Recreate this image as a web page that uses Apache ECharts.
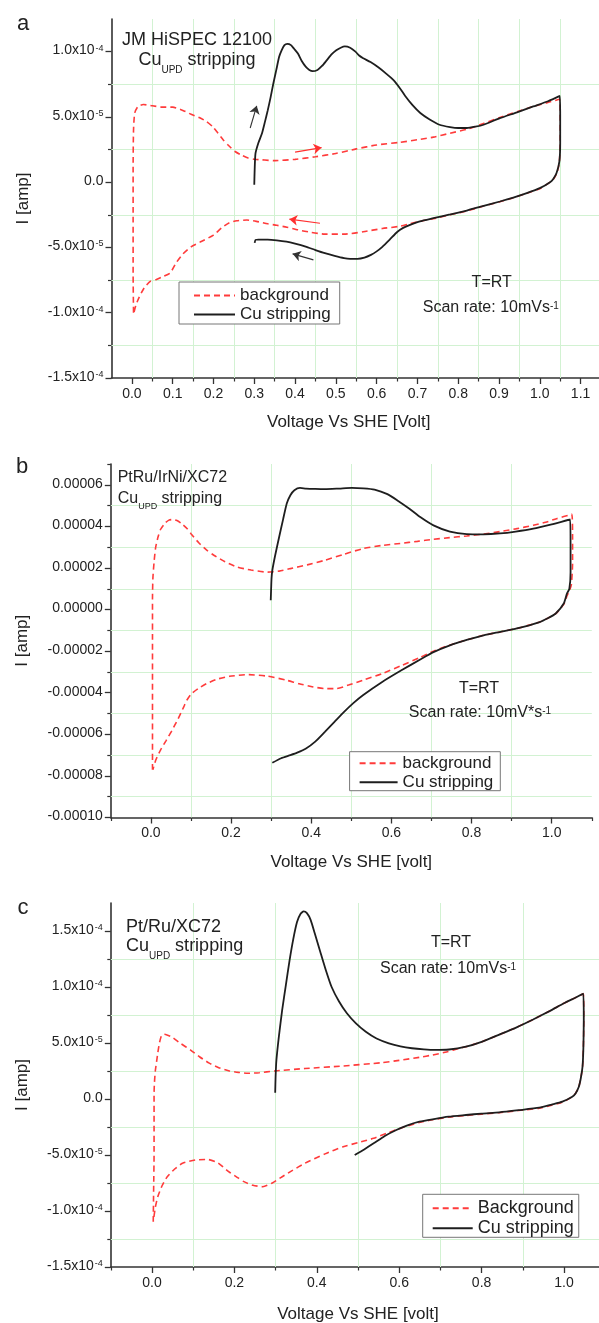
<!DOCTYPE html>
<html>
<head>
<meta charset="utf-8">
<script src="https://cdn.jsdelivr.net/npm/echarts@6/dist/echarts.min.js"></script>
<style>
  html, body { margin: 0; padding: 0; background: #fff; }
  #main { width: 599px; height: 1323px; }
</style>
</head>
<body>
<div id="main"></div>
<script>
var FONT = "'Liberation Sans', Arial, sans-serif";
var RED = '#ff3b3b';
var BLACK = '#1e1e1e';
var GRID = '#d2f2d2';

// ---- panel a : JM HiSPEC 12100 ----
var bgA = [[0.004,-1.0e-4],[0.003,-7.0e-5],[0.003,-3.0e-5],[0.003,1.0e-5],[0.004,4.0e-5],[0.007,5.3e-5],[0.015,5.8e-5],[0.028,5.95e-5],[0.05,5.85e-5],[0.075,5.75e-5],[0.1,5.75e-5],[0.125,5.5e-5],[0.145,5.2e-5],[0.165,4.95e-5],[0.183,4.65e-5],[0.198,4.25e-5],[0.211,3.75e-5],[0.225,3.2e-5],[0.239,2.75e-5],[0.253,2.35e-5],[0.267,2.1e-5],[0.285,1.85e-5],[0.30,1.76e-5],[0.351,1.65e-5],[0.40,1.75e-5],[0.45,1.95e-5],[0.50,2.2e-5],[0.55,2.55e-5],[0.60,2.85e-5],[0.657,3.05e-5],[0.70,3.25e-5],[0.739,3.45e-5],[0.78,3.75e-5],[0.821,4.05e-5],[0.862,4.5e-5],[0.902,4.95e-5],[0.944,5.4e-5],[0.984,5.8e-5],[1.02,6.1e-5],[1.048,6.35e-5],
  [1.05,5.0e-5],[1.05,3.0e-5],[1.048,1.6e-5],[1.043,0.8e-5],[1.035,0.3e-5],[1.025,0.0],[1.0,-0.5e-5],[0.968,-0.85e-5],[0.935,-1.2e-5],[0.902,-1.5e-5],[0.86,-1.85e-5],[0.821,-2.2e-5],[0.78,-2.5e-5],[0.739,-2.8e-5],[0.706,-3.0e-5],[0.68,-3.2e-5],[0.657,-3.38e-5],[0.614,-3.55e-5],[0.567,-3.8e-5],[0.52,-3.98e-5],[0.473,-3.98e-5],[0.44,-3.85e-5],[0.407,-3.65e-5],[0.38,-3.45e-5],[0.355,-3.3e-5],[0.333,-3.19e-5],[0.305,-3.0e-5],[0.282,-2.9e-5],[0.257,-2.96e-5],[0.239,-3.1e-5],[0.22,-3.5e-5],[0.2,-4.05e-5],[0.17,-4.55e-5],[0.145,-4.95e-5],[0.125,-5.5e-5],[0.108,-6.2e-5],[0.094,-6.95e-5],[0.075,-7.25e-5],[0.06,-7.45e-5],[0.045,-7.6e-5],[0.03,-8.1e-5],[0.018,-8.8e-5],[0.01,-9.4e-5],[0.005,-1.0e-4]];
var cuA = [[0.300,-0.2e-5],[0.301,1.0e-5],[0.303,2.2e-5],[0.31,3.0e-5],[0.319,3.75e-5],[0.326,4.6e-5],[0.333,5.5e-5],[0.34,6.5e-5],[0.347,7.6e-5],[0.354,8.6e-5],[0.361,9.6e-5],[0.367,1.01e-4],[0.374,1.05e-4],[0.381,1.06e-4],[0.39,1.05e-4],[0.398,1.02e-4],[0.407,9.85e-5],[0.416,9.3e-5],[0.426,8.85e-5],[0.435,8.6e-5],[0.443,8.5e-5],[0.455,8.6e-5],[0.466,8.9e-5],[0.478,9.35e-5],[0.49,9.8e-5],[0.501,1.01e-4],[0.512,1.03e-4],[0.522,1.04e-4],[0.535,1.03e-4],[0.548,1.0e-4],[0.557,9.7e-5],[0.567,9.5e-5],[0.585,9.2e-5],[0.604,8.8e-5],[0.624,8.3e-5],[0.642,7.8e-5],[0.657,7.2e-5],[0.67,6.6e-5],[0.688,5.9e-5],[0.707,5.3e-5],[0.73,4.8e-5],[0.754,4.4e-5],[0.78,4.22e-5],[0.80,4.15e-5],[0.821,4.15e-5],[0.842,4.25e-5],[0.862,4.4e-5],[0.902,4.9e-5],[0.944,5.35e-5],[0.984,5.8e-5],[1.02,6.2e-5],[1.049,6.6e-5],
  [1.05,5.0e-5],[1.05,3.0e-5],[1.048,1.6e-5],[1.041,0.7e-5],[1.033,0.25e-5],[1.025,0.0],[1.0,-0.46e-5],[0.968,-0.84e-5],[0.935,-1.18e-5],[0.902,-1.48e-5],[0.86,-1.83e-5],[0.821,-2.17e-5],[0.78,-2.47e-5],[0.739,-2.76e-5],[0.706,-3.0e-5],[0.682,-3.27e-5],[0.665,-3.5e-5],[0.651,-3.8e-5],[0.632,-4.4e-5],[0.614,-4.95e-5],[0.6,-5.3e-5],[0.586,-5.57e-5],[0.57,-5.78e-5],[0.553,-5.87e-5],[0.535,-5.87e-5],[0.52,-5.82e-5],[0.497,-5.65e-5],[0.473,-5.44e-5],[0.45,-5.2e-5],[0.426,-4.93e-5],[0.4,-4.7e-5],[0.379,-4.55e-5],[0.355,-4.45e-5],[0.333,-4.4e-5],[0.31,-4.4e-5],[0.303,-4.42e-5],[0.301,-4.65e-5]];
// scan direction arrows (from, to)
var arrowBlackA = [[[0.29,4.15e-5],[0.306,5.85e-5]], [[0.445,-5.95e-5],[0.394,-5.49e-5]]];
var arrowRedA = [[[0.40,2.3e-5],[0.465,2.65e-5]], [[0.461,-3.14e-5],[0.386,-2.83e-5]]];
var xMajorA = [0, 0.1, 0.2, 0.3, 0.4, 0.5, 0.6, 0.7, 0.8, 0.9, 1.0, 1.1];
var xMinorA = [0.05, 0.15, 0.25, 0.35, 0.45, 0.55, 0.65, 0.75, 0.85, 0.95, 1.05];
var yMajorA = [-1.5e-4, -1.0e-4, -5.0e-5, 0, 5.0e-5, 1.0e-4];
var yMinorA = [-1.25e-4, -7.5e-5, -2.5e-5, 2.5e-5, 7.5e-5];

// ---- panel b : PtRu/IrNi/XC72 ----
var bgB = [[0.004,-7.7e-5],[0.004,-5.0e-5],[0.004,-2.0e-5],[0.004,0.5e-5],[0.005,1.5e-5],[0.008,2.3e-5],[0.012,3.0e-5],[0.018,3.5e-5],[0.024,3.85e-5],[0.035,4.15e-5],[0.045,4.3e-5],[0.053,4.33e-5],[0.065,4.28e-5],[0.077,4.13e-5],[0.09,3.9e-5],[0.1,3.65e-5],[0.12,3.2e-5],[0.14,2.85e-5],[0.158,2.6e-5],[0.185,2.3e-5],[0.215,2.05e-5],[0.25,1.9e-5],[0.291,1.8e-5],[0.32,1.85e-5],[0.348,1.97e-5],[0.39,2.15e-5],[0.434,2.37e-5],[0.48,2.65e-5],[0.529,2.93e-5],[0.575,3.08e-5],[0.622,3.18e-5],[0.665,3.28e-5],[0.705,3.38e-5],[0.745,3.46e-5],[0.788,3.54e-5],[0.83,3.63e-5],[0.871,3.75e-5],[0.91,3.88e-5],[0.954,4.05e-5],[0.985,4.2e-5],[1.012,4.37e-5],[1.05,4.58e-5],
  [1.052,3.5e-5],[1.052,2.2e-5],[1.049,1.2e-5],[1.044,0.9e-5],[1.038,0.65e-5],[1.03,0.25e-5],[1.01,-0.2e-5],[0.99,-0.42e-5],[0.97,-0.6e-5],[0.913,-0.91e-5],[0.87,-1.08e-5],[0.83,-1.24e-5],[0.79,-1.45e-5],[0.746,-1.7e-5],[0.705,-2.0e-5],[0.672,-2.3e-5],[0.622,-2.72e-5],[0.577,-3.08e-5],[0.529,-3.4e-5],[0.495,-3.62e-5],[0.463,-3.8e-5],[0.435,-3.8e-5],[0.405,-3.72e-5],[0.37,-3.57e-5],[0.339,-3.4e-5],[0.29,-3.2e-5],[0.244,-3.13e-5],[0.196,-3.21e-5],[0.165,-3.35e-5],[0.139,-3.56e-5],[0.118,-3.8e-5],[0.101,-4.05e-5],[0.09,-4.35e-5],[0.082,-4.68e-5],[0.068,-5.25e-5],[0.053,-5.8e-5],[0.038,-6.3e-5],[0.024,-6.76e-5],[0.012,-7.25e-5],[0.005,-7.7e-5]];
var cuB = [[0.299,0.45e-5],[0.300,1.0e-5],[0.301,1.5e-5],[0.303,1.89e-5],[0.31,2.6e-5],[0.32,3.49e-5],[0.33,4.35e-5],[0.339,5.1e-5],[0.348,5.5e-5],[0.358,5.74e-5],[0.372,5.85e-5],[0.387,5.82e-5],[0.41,5.8e-5],[0.434,5.79e-5],[0.47,5.82e-5],[0.501,5.85e-5],[0.53,5.83e-5],[0.558,5.77e-5],[0.59,5.55e-5],[0.615,5.25e-5],[0.645,4.85e-5],[0.672,4.45e-5],[0.705,4.05e-5],[0.746,3.75e-5],[0.788,3.63e-5],[0.83,3.62e-5],[0.871,3.66e-5],[0.91,3.75e-5],[0.954,3.89e-5],[1.0,4.1e-5],[1.046,4.33e-5],
  [1.047,3.0e-5],[1.047,1.8e-5],[1.044,1.0e-5],[1.038,0.77e-5],[1.03,0.29e-5],[1.01,-0.19e-5],[0.99,-0.42e-5],[0.97,-0.6e-5],[0.913,-0.91e-5],[0.87,-1.08e-5],[0.83,-1.24e-5],[0.79,-1.45e-5],[0.746,-1.72e-5],[0.705,-2.05e-5],[0.672,-2.4e-5],[0.625,-2.92e-5],[0.577,-3.48e-5],[0.529,-4.12e-5],[0.505,-4.5e-5],[0.482,-4.92e-5],[0.458,-5.4e-5],[0.434,-5.88e-5],[0.41,-6.35e-5],[0.387,-6.68e-5],[0.365,-6.88e-5],[0.348,-7.0e-5],[0.325,-7.15e-5],[0.303,-7.37e-5]];
var xMajorB = [0, 0.2, 0.4, 0.6, 0.8, 1.0];
var xMinorB = [-0.1, 0.1, 0.3, 0.5, 0.7, 0.9, 1.1];
var yMajorB = [-1.0e-4, -8.0e-5, -6.0e-5, -4.0e-5, -2.0e-5, 0, 2.0e-5, 4.0e-5, 6.0e-5];
var yMinorB = [-9.0e-5, -7.0e-5, -5.0e-5, -3.0e-5, -1.0e-5, 1.0e-5, 3.0e-5, 5.0e-5, 7.0e-5];

// ---- panel c : Pt/Ru/XC72 ----
var bgC = [[0.003,-1.096e-4],[0.004,-8.0e-5],[0.005,-5.0e-5],[0.005,-2.0e-5],[0.005,0.5e-5],[0.006,1.5e-5],[0.008,2.5e-5],[0.011,3.3e-5],[0.014,4.1e-5],[0.018,5.0e-5],[0.023,5.65e-5],[0.03,5.78e-5],[0.038,5.7e-5],[0.047,5.56e-5],[0.07,4.95e-5],[0.093,4.38e-5],[0.116,3.75e-5],[0.139,3.2e-5],[0.162,2.8e-5],[0.186,2.53e-5],[0.21,2.38e-5],[0.232,2.3e-5],[0.26,2.35e-5],[0.297,2.5e-5],[0.371,2.72e-5],[0.464,2.95e-5],[0.557,3.24e-5],[0.60,3.45e-5],[0.649,3.72e-5],[0.681,3.93e-5],[0.715,4.2e-5],[0.746,4.53e-5],[0.762,4.67e-5],[0.8,5.1e-5],[0.843,5.75e-5],[0.885,6.4e-5],[0.925,7.1e-5],[0.965,7.85e-5],[1.0,8.55e-5],[1.025,9.0e-5],[1.047,9.4e-5],
  [1.048,7.0e-5],[1.047,4.5e-5],[1.045,2.9e-5],[1.041,1.9e-5],[1.036,1.1e-5],[1.028,0.5e-5],[1.02,0.2e-5],[0.996,-0.3e-5],[0.97,-0.55e-5],[0.94,-0.82e-5],[0.89,-1.03e-5],[0.843,-1.22e-5],[0.8,-1.35e-5],[0.762,-1.47e-5],[0.72,-1.62e-5],[0.681,-1.85e-5],[0.649,-2.1e-5],[0.62,-2.4e-5],[0.60,-2.65e-5],[0.57,-3.05e-5],[0.538,-3.51e-5],[0.5,-3.9e-5],[0.464,-4.26e-5],[0.42,-4.9e-5],[0.371,-5.74e-5],[0.34,-6.4e-5],[0.316,-6.94e-5],[0.292,-7.5e-5],[0.269,-7.83e-5],[0.245,-7.7e-5],[0.223,-7.38e-5],[0.205,-6.95e-5],[0.186,-6.49e-5],[0.16,-5.7e-5],[0.135,-5.4e-5],[0.105,-5.45e-5],[0.074,-5.74e-5],[0.055,-6.25e-5],[0.037,-6.94e-5],[0.025,-7.7e-5],[0.014,-8.72e-5],[0.008,-9.7e-5],[0.003,-1.096e-4]];
var cuC = [[0.299,0.56e-5],[0.300,2.0e-5],[0.302,3.48e-5],[0.308,5.6e-5],[0.316,7.95e-5],[0.325,1.02e-4],[0.334,1.24e-4],[0.343,1.43e-4],[0.352,1.58e-4],[0.36,1.65e-4],[0.368,1.675e-4],[0.376,1.66e-4],[0.385,1.6e-4],[0.395,1.48e-4],[0.408,1.32e-4],[0.422,1.15e-4],[0.436,1.0e-4],[0.454,8.7e-5],[0.473,7.65e-5],[0.495,6.75e-5],[0.519,6.0e-5],[0.545,5.4e-5],[0.575,4.97e-5],[0.603,4.7e-5],[0.631,4.53e-5],[0.66,4.43e-5],[0.686,4.38e-5],[0.721,4.42e-5],[0.762,4.67e-5],[0.8,5.1e-5],[0.843,5.75e-5],[0.885,6.4e-5],[0.925,7.1e-5],[0.965,7.85e-5],[1.0,8.55e-5],[1.025,9.0e-5],[1.047,9.4e-5],
  [1.048,7.0e-5],[1.047,4.5e-5],[1.045,2.9e-5],[1.041,1.9e-5],[1.036,1.1e-5],[1.028,0.5e-5],[1.02,0.2e-5],[0.996,-0.24e-5],[0.97,-0.5e-5],[0.94,-0.78e-5],[0.89,-1.0e-5],[0.843,-1.19e-5],[0.8,-1.3e-5],[0.762,-1.43e-5],[0.72,-1.58e-5],[0.681,-1.81e-5],[0.649,-2.03e-5],[0.62,-2.35e-5],[0.593,-2.77e-5],[0.565,-3.3e-5],[0.538,-3.96e-5],[0.515,-4.5e-5],[0.492,-5.0e-5]];
var xMajorC = [0, 0.2, 0.4, 0.6, 0.8, 1.0];
var xMinorC = [-0.1, 0.1, 0.3, 0.5, 0.7, 0.9];
var yMajorC = [-1.5e-4, -1.0e-4, -5.0e-5, 0, 5.0e-5, 1.0e-4, 1.5e-4];
var yMinorC = [-1.25e-4, -7.5e-5, -2.5e-5, 2.5e-5, 7.5e-5, 1.25e-4];

// y tick label formats
function sciLabel(v) {
  if (Math.abs(v) < 1e-12) return '{m|0.0}';
  var e = Math.floor(Math.log10(Math.abs(v)) + 1e-6);
  var m = v / Math.pow(10, e);
  return '{m|' + m.toFixed(1) + 'x10}{s|' + e + '}';
}
function fixedLabel(v) {
  if (Math.abs(v) < 1e-12) return '{m|0.00000}';
  return '{m|' + v.toFixed(5) + '}';
}

var panels = [
  {bg: bgA, cu: cuA, bgName: 'background', xMajor: xMajorA, xMinor: xMinorA, yMajor: yMajorA, yMinor: yMinorA,
   xMin: -0.05, xMax: 1.15, xStep: 0.05, yMin: -1.5e-4, yMax: 1.25e-4, yStep: 2.5e-5, yFmt: sciLabel,
   xName: 'Voltage Vs SHE [Volt]', xNameGap: 36, xNamePad: [0, 15, 0, 0],
   grid: {left: 111.5, top: 19, width: 489.5, height: 359}},
  {bg: bgB, cu: cuB, bgName: 'background', xMajor: xMajorB, xMinor: xMinorB, yMajor: yMajorB, yMinor: yMinorB,
   xMin: -0.1, xMax: 1.1, xStep: 0.1, yMin: -1.0e-4, yMax: 7.0e-5, yStep: 1.0e-5, yFmt: fixedLabel,
   xName: 'Voltage Vs SHE [volt]', xNameGap: 36, xNamePad: [0, 0, 0, 0],
   grid: {left: 110.8, top: 464, width: 481, height: 353.5}},
  {bg: bgC, cu: cuC, bgName: 'Background', xMajor: xMajorC, xMinor: xMinorC, yMajor: yMajorC, yMinor: yMinorC,
   xMin: -0.1, xMax: 1.1, xStep: 0.1, yMin: -1.5e-4, yMax: 1.75e-4, yStep: 2.5e-5, yFmt: sciLabel,
   xName: 'Voltage Vs SHE [volt]', xNameGap: 39, xNamePad: [0, 0, 0, 0],
   grid: {left: 110.8, top: 903, width: 494.4, height: 364}}
];

var axisColor = '#333';
var labelRich = {
  m: {fontSize: 14, fontFamily: FONT, color: '#222', lineHeight: 16, verticalAlign: 'top'},
  s: {fontSize: 9, fontFamily: FONT, color: '#222', lineHeight: 9, verticalAlign: 'top', padding: [0, 0, 0, 1]}
};

var grids = [], xAxes = [], yAxes = [], series = [];
panels.forEach(function (p, i) {
  grids.push(Object.assign({containLabel: false, outerBoundsMode: 'none'}, p.grid));
  xAxes.push({
    gridIndex: i, type: 'value', min: p.xMin, max: p.xMax, interval: p.xStep, position: 'bottom',
    axisLine: {onZero: false, lineStyle: {color: axisColor, width: 1.6}},
    axisTick: {customValues: p.xMajor, length: 6, lineStyle: {color: axisColor, width: 1.3}},
    axisLabel: {customValues: p.xMajor, formatter: function (v) { return v.toFixed(1); },
      color: '#222', fontSize: 14, fontFamily: FONT, margin: 9},
    splitLine: {show: false},
    name: p.xName, nameLocation: 'middle', nameGap: p.xNameGap,
    nameTextStyle: {fontSize: 17, fontFamily: FONT, color: '#222', padding: p.xNamePad}
  });
  yAxes.push({
    gridIndex: i, type: 'value', min: p.yMin, max: p.yMax, interval: p.yStep, position: 'left',
    axisLine: {onZero: false, lineStyle: {color: axisColor, width: 1.6}},
    axisTick: {customValues: p.yMajor, length: 6, lineStyle: {color: axisColor, width: 1.3}},
    axisLabel: {customValues: p.yMajor, formatter: p.yFmt, rich: labelRich, margin: 8},
    splitLine: {show: false},
    name: 'I [amp]', nameLocation: 'middle', nameGap: 80,
    nameTextStyle: {fontSize: 17, fontFamily: FONT, color: '#222'}
  });

  // light green grid lines sit half way between the labelled ticks
  var gridLines = p.xMinor.filter(function (v) { return v > p.xMin && v < p.xMax; })
    .map(function (v) { return {xAxis: v}; })
    .concat(p.yMinor.filter(function (v) { return v > p.yMin && v < p.yMax; })
    .map(function (v) { return {yAxis: v}; }));

  series.push({
    type: 'line', name: p.bgName, xAxisIndex: i, yAxisIndex: i, data: p.bg,
    symbol: 'none', showSymbol: false, smooth: 0.2, z: 3,
    lineStyle: {color: RED, width: 1.6, type: [6, 4]}, itemStyle: {color: RED},
    markLine: {
      silent: true, symbol: ['none', 'none'], label: {show: false}, z: 1, animation: false,
      precision: 12, emphasis: {disabled: true},
      lineStyle: {color: GRID, width: 1, type: 'solid'},
      data: gridLines
    }
  });
  series.push({
    type: 'line', name: 'Cu stripping', xAxisIndex: i, yAxisIndex: i, data: p.cu,
    symbol: 'none', showSymbol: false, smooth: 0.2, z: 4,
    lineStyle: {color: BLACK, width: 1.8}, itemStyle: {color: BLACK}
  });
});
// short minor ticks: a second, bare axis on every grid
panels.forEach(function (p, i) {
  xAxes.push({
    gridIndex: i, type: 'value', min: p.xMin, max: p.xMax, interval: p.xStep, position: 'bottom',
    axisLine: {show: false, onZero: false},
    axisTick: {customValues: p.xMinor, length: 3.5, lineStyle: {color: axisColor, width: 1.2}},
    axisLabel: {show: false}, splitLine: {show: false}
  });
  yAxes.push({
    gridIndex: i, type: 'value', min: p.yMin, max: p.yMax, interval: p.yStep, position: 'left',
    axisLine: {show: false, onZero: false},
    axisTick: {customValues: p.yMinor, length: 3.5, lineStyle: {color: axisColor, width: 1.2}},
    axisLabel: {show: false}, splitLine: {show: false}
  });
});

series.push({
  type: 'lines', coordinateSystem: 'cartesian2d', xAxisIndex: 0, yAxisIndex: 0, silent: true, z: 5,
  symbol: ['none', 'arrow'], symbolSize: 8, lineStyle: {color: '#333', width: 1.1, opacity: 1},
  data: arrowBlackA.map(function (c) { return {coords: c}; })
});
series.push({
  type: 'lines', coordinateSystem: 'cartesian2d', xAxisIndex: 0, yAxisIndex: 0, silent: true, z: 5,
  symbol: ['none', 'arrow'], symbolSize: 8, lineStyle: {color: '#ff3030', width: 1.1, opacity: 1},
  data: arrowRedA.map(function (c) { return {coords: c}; })
});

function legendBox(names, left, top, itemWidth, padding, size) {
  return {
    data: names, left: left, top: top, orient: 'vertical', selectedMode: false,
    itemWidth: itemWidth, itemHeight: 20, itemGap: 2, padding: padding,
    itemStyle: {opacity: 0, borderWidth: 0},
    borderColor: '#777', borderWidth: 1, backgroundColor: '#fff',
    textStyle: {fontSize: size, fontFamily: FONT, color: '#222'}
  };
}

function plain(x, y, text, size, align) {
  return {type: 'text', x: x, y: y, silent: true, z: 10,
    style: {text: text, fontSize: size, fontFamily: FONT, fill: '#222', align: align || 'center', verticalAlign: 'middle'}};
}
// Cu with UPD subscript
function cuUpd(x, top, size, align) {
  return {type: 'text', x: x, y: top, silent: true, z: 10,
    style: {text: '{n|Cu}{sub|UPD}{n| stripping}', align: align, verticalAlign: 'top', fill: '#222',
      rich: {
        n: {fontSize: size, fontFamily: FONT, color: '#222', lineHeight: size + 2, verticalAlign: 'top'},
        sub: {fontSize: Math.round(size * 0.56), fontFamily: FONT, color: '#222', lineHeight: 10,
          verticalAlign: 'top', padding: [size - 4, 0, 0, 0]}
      }}};
}
// scan rate with -1 exponent
function scanRate(x, top, body) {
  return {type: 'text', x: x, y: top, silent: true, z: 10,
    style: {text: '{n|' + body + '}{sup|-1}', align: 'center', verticalAlign: 'top', fill: '#222',
      rich: {
        n: {fontSize: 16, fontFamily: FONT, color: '#222', lineHeight: 18, verticalAlign: 'top'},
        sup: {fontSize: 10, fontFamily: FONT, color: '#222', lineHeight: 10, verticalAlign: 'top', padding: [2, 0, 0, 0]}
      }}};
}

var option = {
  animation: false,
  backgroundColor: '#fff',
  grid: grids,
  xAxis: xAxes,
  yAxis: yAxes,
  legend: [
    legendBox(['background', 'Cu stripping'], 179, 282, 41, [5, 9, 1, 14], 17),
    legendBox(['background', 'Cu stripping'], 349.6, 751.7, 38, [3, 7, 0, 9], 17),
    legendBox(['Background', 'Cu stripping'], 422.7, 1194.3, 40, [5, 5, 0, 9], 18)
  ],
  graphic: {elements: [
    plain(23, 24, 'a', 22),
    plain(197, 40.5, 'JM HiSPEC 12100', 18),
    cuUpd(197, 51, 18, 'center'),
    plain(491.7, 283, 'T=RT', 16),
    scanRate(490.8, 299.3, 'Scan rate: 10mVs'),

    plain(22, 467, 'b', 22),
    plain(117.7, 477.5, 'PtRu/IrNi/XC72', 16, 'left'),
    cuUpd(117.7, 490.2, 16, 'left'),
    plain(479, 688.3, 'T=RT', 16),
    scanRate(480, 704.3, 'Scan rate: 10mV*s'),

    plain(23, 908, 'c', 22),
    plain(126, 926.7, 'Pt/Ru/XC72', 18, 'left'),
    cuUpd(126, 937.5, 18, 'left'),
    plain(451, 942.5, 'T=RT', 16),
    scanRate(448, 960.3, 'Scan rate: 10mVs')
  ]},
  series: series
};

var myChart = echarts.init(document.getElementById('main'));
myChart.setOption(option);
</script>
</body>
</html>
